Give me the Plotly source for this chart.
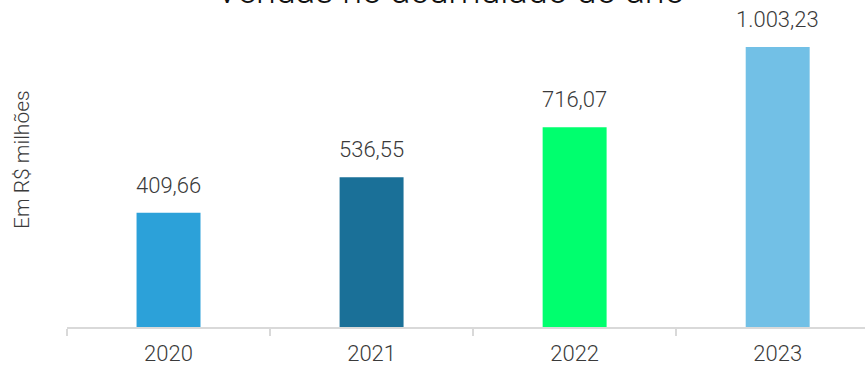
import plotly.graph_objects as go

categories = ["2020", "2021", "2022", "2023"]
values = [409.66, 536.55, 716.07, 1003.23]
colors = ["#2ca1d9", "#1a7098", "#00ff6e", "#72c0e6"]
title_text = "Vendas no acumulado do ano"
y_title = "Em R$ milhões"


def br(v):
    s = f"{v:,.2f}"
    return s.replace(",", "X").replace(".", ",").replace("X", ".")


FONT = "Roboto"
TXT = "#3a3a3a"

fig = go.Figure()
fig.add_trace(go.Bar(x=categories, y=values, marker=dict(color=colors, line=dict(width=0)),
                     width=0.315, hoverinfo="skip"))

for i, v in enumerate(values):
    fig.add_annotation(x=i, y=v, text=br(v), showarrow=False, yanchor="bottom", yshift=13,
                       font=dict(family=FONT, size=22, color=TXT, weight=300))

fig.add_annotation(xref="paper", yref="paper", x=(450 - 67) / 798, y=(327 - 5) / 307,
                   text=title_text, showarrow=False, yanchor="bottom", xanchor="center", yshift=-9,
                   font=dict(family=FONT, size=36, color="#111111", weight=300))

fig.add_annotation(xref="paper", yref="paper", x=-(67 - 22) / 798, y=(327 - 160) / 307,
                   text=y_title, showarrow=False, textangle=-90, xanchor="center", yanchor="middle",
                   font=dict(family=FONT, size=21, color=TXT, weight=300))

fig.update_layout(
    width=865, height=365,
    margin=dict(l=67, r=0, t=20, b=38),
    paper_bgcolor="white", plot_bgcolor="white",
    showlegend=False,
    xaxis=dict(type="category", range=[-0.5, 3.43], showline=True, linecolor="#d9d9d9", linewidth=2,
               ticks="outside", tickson="boundaries", ticklen=7, tickcolor="#d9d9d9", tickwidth=2,
               ticklabelstandoff=6,
               showgrid=False, zeroline=False,
               tickfont=dict(family=FONT, size=22, color=TXT, weight=300)),
    yaxis=dict(range=[0, 1100], showticklabels=False, showgrid=False, zeroline=False, showline=False),
)

fig.write_html("out.html")
